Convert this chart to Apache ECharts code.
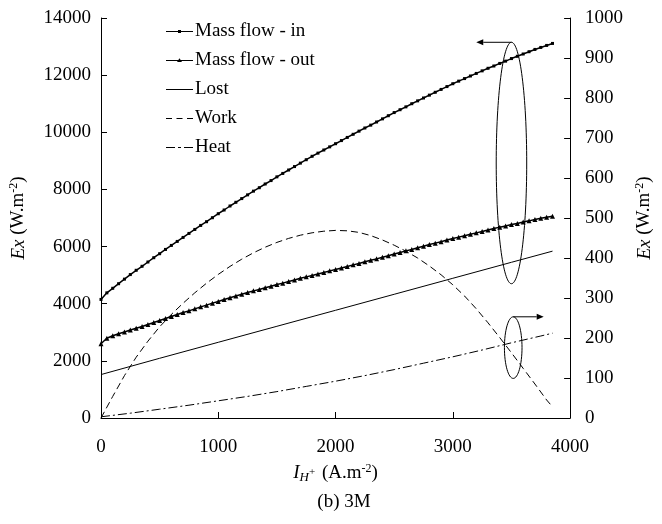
<!DOCTYPE html>
<html>
<head>
<meta charset="utf-8">
<script src="https://cdn.jsdelivr.net/npm/echarts@6/dist/echarts.min.js"></script>
<style>
html, body { margin: 0; background: #fff; }
#chart { width: 662px; height: 524px; }
</style>
</head>
<body>
<div id="chart"></div>
<script>
// current density (A.m-2) for the two marked mass-flow curves
const currentMass = [0, 50, 100, 150, 200, 250, 300, 350, 400, 450, 500, 550, 600, 650, 700, 750, 800, 850, 900, 950,
  1000, 1050, 1100, 1150, 1200, 1250, 1300, 1350, 1400, 1450, 1500, 1550, 1600, 1650, 1700, 1750, 1800, 1850, 1900, 1950,
  2000, 2050, 2100, 2150, 2200, 2250, 2300, 2350, 2400, 2450, 2500, 2550, 2600, 2650, 2700, 2750, 2800, 2850, 2900, 2950,
  3000, 3050, 3100, 3150, 3200, 3250, 3300, 3350, 3400, 3450, 3500, 3550, 3600, 3650, 3700, 3750, 3800, 3850]

const massIn = [4150, 4380, 4540, 4700, 4860, 5020, 5170, 5310, 5460, 5610, 5750, 5900, 6040, 6180, 6320, 6460, 6600, 6740, 6870, 7010,
  7150, 7280, 7420, 7550, 7680, 7810, 7940, 8060, 8190, 8310, 8440, 8560, 8680, 8800, 8920, 9040, 9160, 9270, 9380, 9490,
  9600, 9710, 9820, 9930, 10040, 10150, 10250, 10360, 10470, 10580, 10690, 10790, 10890, 11000, 11100, 11200, 11300, 11400, 11500, 11600,
  11700, 11790, 11880, 11970, 12060, 12150, 12240, 12320, 12410, 12490, 12580, 12660, 12740, 12820, 12900, 12970, 13040, 13110]

const massOut = [2600, 2790, 2880, 2950, 3010, 3080, 3140, 3200, 3270, 3340, 3410, 3480, 3550, 3620, 3690, 3750, 3820, 3890, 3950, 4020,
  4080, 4150, 4210, 4270, 4330, 4390, 4450, 4500, 4560, 4610, 4670, 4720, 4780, 4830, 4890, 4940, 4990, 5040, 5090, 5150,
  5200, 5250, 5305, 5360, 5410, 5470, 5520, 5570, 5625, 5680, 5740, 5790, 5850, 5900, 5960, 6010, 6070, 6120, 6170, 6230,
  6280, 6330, 6380, 6430, 6480, 6530, 6580, 6630, 6680, 6720, 6770, 6810, 6860, 6900, 6950, 6990, 7030, 7060]

const currentLost = [0, 500, 1000, 1500, 2000, 2500, 3000, 3500, 3850]
const lost = [1520, 2090, 2650, 3210, 3770, 4330, 4890, 5450, 5840]

// work and heat are read on the right axis
const currentWork = [0, 100, 200, 300, 400, 500, 600, 700, 800, 900, 1000, 1100, 1200, 1300, 1400, 1500, 1600, 1700, 1800, 1900,
  2000, 2100, 2200, 2300, 2400, 2500, 2600, 2700, 2800, 2900, 3000, 3100, 3200, 3300, 3400, 3500, 3600, 3700, 3800, 3850]
const work = [0, 54, 106, 152, 192, 228, 259, 287, 313, 337, 359, 379, 397, 413, 427, 439, 449, 457, 463, 467,
  469, 468, 464, 456, 445, 432, 417, 400, 380, 358, 333, 305, 273, 238, 201, 163, 124, 85, 45, 28]

const currentHeat = [0, 250, 500, 750, 1000, 1250, 1500, 1750, 2000, 2250, 2500, 2750, 3000, 3250, 3500, 3750, 3850]
const heat = [3, 12, 22, 32, 43, 54, 66, 79, 92, 106, 121, 137, 153, 170, 188, 205, 212]

const xTicks = { min: 0, max: 4000, interval: 1000 }
const leftTicks = { min: 0, max: 14000, interval: 2000 }
const rightTicks = { min: 0, max: 1000, interval: 100 }

// grouping ellipses: [x, top, bottom, halfWidth, arrowEndX] in axis units
const bigEllipse = [3500, 13150, 4700, 130, 3200]   // left axis
const smallEllipse = [3515, 253, 99, 75, 3775]      // right axis

const font = 'Liberation Serif'
const size = 19

// legend icons drawn in a 27 x 14 box (first subpath only fixes the box size)
const box = 'M0,0L0,14L0,0Z '
const iconIn = 'path://' + box + 'M0,6.4H27V7.6H0Z M12,5.5H15V8.5H12Z'
const iconOut = 'path://' + box + 'M0,6.4H27V7.6H0Z M13.5,4.8L16,8.6L11,8.6Z'
const iconLost = 'path://' + box + 'M0,6.4H27V7.6H0Z'
const iconWork = 'path://' + box + 'M0,6.4H6V7.6H0Z M10.5,6.4H16.5V7.6H10.5Z M21,6.4H27V7.6H21Z'
const iconHeat = 'path://' + box + 'M0,6.4H9V7.6H0Z M12,6.4H15V7.6H12Z M18,6.4H27V7.6H18Z'

function pairs (xs, ys) {
  return xs.map((x, i) => [x, ys[i]])
}

let chart = echarts.init(document.getElementById('chart'))

const axisBase = {
  axisLine: { show: true, lineStyle: { color: '#000', width: 1 } },
  axisTick: { show: true, inside: true, length: 6, lineStyle: { color: '#000' } },
  splitLine: { show: false }
}

function labelStyle (margin) {
  return { color: '#000', fontFamily: font, fontSize: size, margin: margin, formatter: (v) => String(v) }
}

const yName = '{i|Ex} (W.m{sup|-2})'
const yNameStyle = {
  color: '#000',
  fontFamily: font,
  fontSize: size,
  rich: {
    i: { fontStyle: 'italic', fontFamily: font, fontSize: size, color: '#000' },
    sup: { fontFamily: font, fontSize: 12, color: '#000', padding: [0, 0, 9, 0] }
  }
}

let option = {
  animation: false,
  backgroundColor: '#fff',
  title: {
    text: '(b) 3M',
    left: 339,
    top: 488,
    textAlign: 'center',
    textStyle: { fontFamily: font, fontSize: size, fontWeight: 'normal', color: '#000' }
  },
  legend: {
    orient: 'vertical',
    left: 166,
    top: 22,
    padding: 0,
    itemWidth: 27,
    itemHeight: 14,
    itemGap: 10,
    itemStyle: { color: '#000', borderWidth: 0 },
    textStyle: { fontFamily: font, fontSize: size, color: '#000', padding: [0, 0, 0, -3] },
    data: [
      { name: 'Mass flow - in', icon: iconIn },
      { name: 'Mass flow - out', icon: iconOut },
      { name: 'Lost', icon: iconLost },
      { name: 'Work', icon: iconWork },
      { name: 'Heat', icon: iconHeat }
    ]
  },
  grid: { left: 98, right: 82, top: 18, bottom: 106 },
  xAxis: Object.assign({}, axisBase, {
    type: 'value',
    min: xTicks.min,
    max: xTicks.max,
    interval: xTicks.interval,
    axisLabel: labelStyle(20),
    name: '{i|I}{sub|H}{sup|+} (A.m{sup2|-2})',
    nameLocation: 'middle',
    nameGap: 44,
    nameTextStyle: {
      color: '#000',
      fontFamily: font,
      fontSize: size,
      rich: {
        i: { fontStyle: 'italic', fontFamily: font, fontSize: size, color: '#000' },
        sub: { fontStyle: 'italic', fontFamily: font, fontSize: 13, color: '#000', padding: [9, 0, 0, 0] },
        sup: { fontFamily: font, fontSize: 11, color: '#000', padding: [0, 2, 2, 0] },
        sup2: { fontFamily: font, fontSize: 12, color: '#000', padding: [0, 0, 9, 0] }
      }
    }
  }),
  yAxis: [
    Object.assign({}, axisBase, {
      type: 'value',
      position: 'left',
      min: leftTicks.min,
      max: leftTicks.max,
      interval: leftTicks.interval,
      axisLabel: labelStyle(10),
      name: yName,
      nameLocation: 'middle',
      nameRotate: 90,
      nameGap: 72,
      nameTextStyle: yNameStyle
    }),
    Object.assign({}, axisBase, {
      type: 'value',
      position: 'right',
      min: rightTicks.min,
      max: rightTicks.max,
      interval: rightTicks.interval,
      axisLabel: labelStyle(15),
      name: yName,
      nameLocation: 'middle',
      nameRotate: 90,
      nameGap: 60,
      nameTextStyle: yNameStyle
    })
  ],
  series: [
    {
      name: 'Mass flow - in',
      type: 'line',
      data: pairs(currentMass, massIn),
      symbol: 'rect',
      symbolSize: 3,
      itemStyle: { color: '#000' },
      lineStyle: { color: '#000', width: 1.5 }
    },
    {
      name: 'Mass flow - out',
      type: 'line',
      data: pairs(currentMass, massOut),
      symbol: 'triangle',
      symbolSize: 5,
      itemStyle: { color: '#000' },
      lineStyle: { color: '#000', width: 1.5 }
    },
    {
      name: 'Lost',
      type: 'line',
      data: pairs(currentLost, lost),
      symbol: 'none',
      itemStyle: { color: '#000' },
      lineStyle: { color: '#000', width: 1 }
    },
    {
      name: 'Work',
      type: 'line',
      yAxisIndex: 1,
      data: pairs(currentWork, work),
      symbol: 'none',
      itemStyle: { color: '#000' },
      lineStyle: { color: '#000', width: 1, type: [7, 4] }
    },
    {
      name: 'Heat',
      type: 'line',
      yAxisIndex: 1,
      data: pairs(currentHeat, heat),
      symbol: 'none',
      itemStyle: { color: '#000' },
      lineStyle: { color: '#000', width: 1, type: [9, 3, 2, 3] }
    }
  ]
}

chart.setOption(option)

// ellipses and arrows placed from axis units
function groupMarks (e, yAxisIndex, dir) {
  const top = chart.convertToPixel({ xAxisIndex: 0, yAxisIndex: yAxisIndex }, [e[0], e[1]])
  const bottom = chart.convertToPixel({ xAxisIndex: 0, yAxisIndex: yAxisIndex }, [e[0], e[2]])
  const side = chart.convertToPixel({ xAxisIndex: 0, yAxisIndex: yAxisIndex }, [e[0] + e[3], e[1]])
  const end = chart.convertToPixel({ xAxisIndex: 0, yAxisIndex: yAxisIndex }, [e[4], e[1]])
  const cx = top[0]
  const cy = (top[1] + bottom[1]) / 2
  const head = 7 * dir
  return [
    {
      type: 'ellipse',
      shape: { cx: cx, cy: cy, rx: side[0] - cx, ry: (bottom[1] - top[1]) / 2 },
      style: { fill: null, stroke: '#000', lineWidth: 1 }
    },
    {
      type: 'line',
      shape: { x1: cx, y1: top[1], x2: end[0] - head, y2: top[1] },
      style: { stroke: '#000', lineWidth: 1 }
    },
    {
      type: 'polygon',
      shape: { points: [[end[0], top[1]], [end[0] - head, top[1] - 3], [end[0] - head, top[1] + 3]] },
      style: { fill: '#000' }
    }
  ]
}

chart.setOption({
  graphic: groupMarks(bigEllipse, 0, -1).concat(groupMarks(smallEllipse, 1, 1))
})
</script>
</body>
</html>
